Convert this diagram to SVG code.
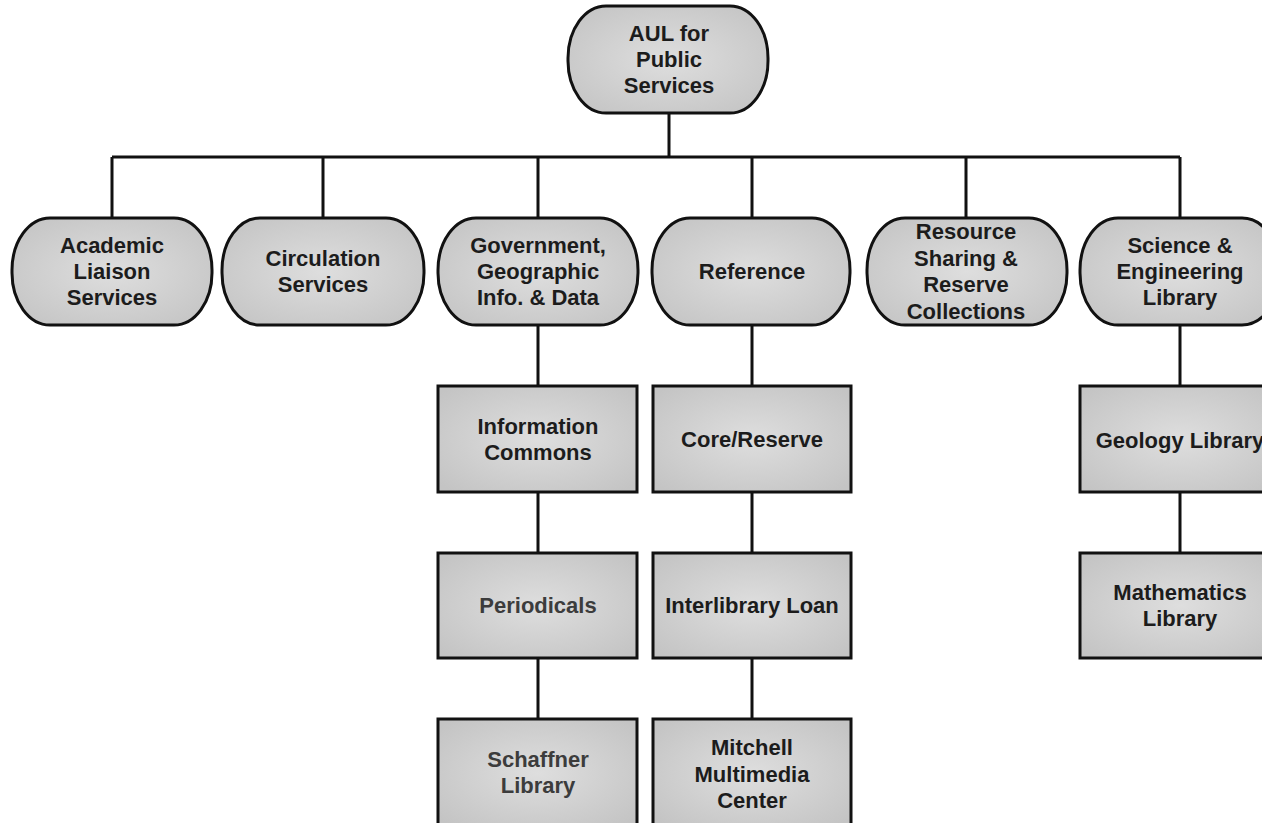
<svg xmlns="http://www.w3.org/2000/svg" width="1262" height="823" viewBox="0 0 1262 823">
<defs>
<radialGradient id="g" cx="50%" cy="50%" r="65%">
<stop offset="0" stop-color="#dedede"/>
<stop offset="1" stop-color="#c4c4c4"/>
</radialGradient>
<style>
.n{fill:url(#g);stroke:#111;stroke-width:3}
.t{font-family:"Liberation Sans",Arial,sans-serif;font-weight:bold;font-size:22px;fill:#1c1c1c;text-anchor:middle}
.l{fill:#3c3c3c}
.c{fill:none;stroke:#111;stroke-width:3}
</style>
</defs>
<rect width="1262" height="823" fill="#fff"/>
<g id="connectors">
<path class="c" d="M669 113V157M112 157H1180M112 157V218M323 157V218M538 157V218M752 157V218M966 157V218M1180 157V218"/>
<path class="c" d="M538 325V386M538 492V553M538 658V719M752 325V386M752 492V553M752 658V719M1180 325V386M1180 492V553"/>
</g>
<g id="aul"><rect class="n" x="568" y="6" width="200" height="107" rx="38" ry="52"/>
<text class="t" x="669" y="41">AUL for<tspan x="669" dy="26">Public</tspan><tspan x="669" dy="26">Services</tspan></text></g>
<g id="academic"><rect class="n" x="12" y="218" width="200" height="107" rx="38" ry="52"/>
<text class="t" x="112" y="253">Academic<tspan x="112" dy="26">Liaison</tspan><tspan x="112" dy="26">Services</tspan></text></g>
<g id="circulation"><rect class="n" x="222" y="218" width="202" height="107" rx="38" ry="52"/>
<text class="t" x="323" y="266">Circulation<tspan x="323" dy="26">Services</tspan></text></g>
<g id="government"><rect class="n" x="438" y="218" width="200" height="107" rx="38" ry="52"/>
<text class="t" x="538" y="253">Government,<tspan x="538" dy="26">Geographic</tspan><tspan x="538" dy="26">Info. &amp; Data</tspan></text></g>
<g id="reference"><rect class="n" x="652" y="218" width="198" height="107" rx="38" ry="52"/>
<text class="t" x="752" y="279">Reference</text></g>
<g id="resource"><rect class="n" x="867" y="218" width="200" height="107" rx="38" ry="52"/>
<text class="t" x="966" y="239">Resource<tspan x="966" dy="26.5">Sharing &amp;</tspan><tspan x="966" dy="26.5">Reserve</tspan><tspan x="966" dy="26.5">Collections</tspan></text></g>
<g id="science"><rect class="n" x="1080" y="218" width="200" height="107" rx="38" ry="52"/>
<text class="t" x="1180" y="253">Science &amp;<tspan x="1180" dy="26">Engineering</tspan><tspan x="1180" dy="26">Library</tspan></text></g>
<g id="infocommons"><rect class="n" x="438" y="386" width="199" height="106"/>
<text class="t" x="538" y="434">Information<tspan x="538" dy="26">Commons</tspan></text></g>
<g id="periodicals"><rect class="n" x="438" y="553" width="199" height="105"/>
<text class="t l" x="538" y="613">Periodicals</text></g>
<g id="schaffner"><rect class="n" x="438" y="719" width="199" height="108"/>
<text class="t l" x="538" y="767">Schaffner<tspan x="538" dy="26">Library</tspan></text></g>
<g id="core"><rect class="n" x="653" y="386" width="198" height="106"/>
<text class="t" x="752" y="447">Core/Reserve</text></g>
<g id="ill"><rect class="n" x="653" y="553" width="198" height="105"/>
<text class="t" x="752" y="613">Interlibrary Loan</text></g>
<g id="mitchell"><rect class="n" x="653" y="719" width="198" height="108"/>
<text class="t" x="752" y="755">Mitchell<tspan x="752" dy="26.5">Multimedia</tspan><tspan x="752" dy="26.5">Center</tspan></text></g>
<g id="geology"><rect class="n" x="1080" y="386" width="200" height="106"/>
<text class="t" x="1180" y="448">Geology Library</text></g>
<g id="mathematics"><rect class="n" x="1080" y="553" width="200" height="105"/>
<text class="t" x="1180" y="600">Mathematics<tspan x="1180" dy="26">Library</tspan></text></g>
</svg>
